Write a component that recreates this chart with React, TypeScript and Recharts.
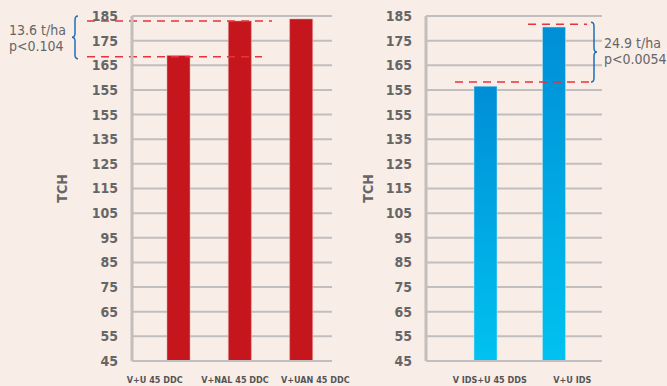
import { BarChart, Bar, XAxis, YAxis, CartesianGrid, ReferenceLine, ReferenceArea } from 'recharts'

const leftCategories = ['V+U 45 DDC', 'V+NAL 45 DDC', 'V+UAN 45 DDC']
const leftValues = [169, 183, 183.8]
const rightCategories = ['V IDS+U 45 DDS', 'V+U IDS']
const rightValues = [156.5, 180.5]

const tickValues = [45, 55, 65, 75, 85, 95, 105, 115, 125, 135, 145, 155, 165, 175, 185]
// labels as printed on the original (note the repeated 155)
const tickLabels = ['45', '55', '65', '75', '85', '95', '105', '115', '125', '135', '155', '155', '165', '175', '185']

const leftDiff = { low: 168.5, high: 183, text: '13.6 t/ha', p: 'p<0.104' }
const rightDiff = { low: 158.2, high: 181.7, text: '24.9 t/ha', p: 'p<0.0054' }

const BG = '#f8ede7'
const GRID = '#c2bebe'
const TEXT = '#666666'
const FONT = '"DejaVu Sans Condensed", "Liberation Sans Narrow", sans-serif'

const fmtTick = (v: number) => {
  const i = tickValues.indexOf(v)
  return i >= 0 ? tickLabels[i] : String(v)
}

const tchAt = (dx: number) => (props: any) => {
  const { viewBox } = props
  const cx = viewBox.x + dx
  const cy = viewBox.y + viewBox.height / 2
  return (
    <text x={cx} y={cy} transform={`rotate(-90 ${cx} ${cy})`} textAnchor="middle" dominantBaseline="central"
      fill={TEXT} fontSize={14} fontWeight={700} fontFamily={FONT}>TCH</text>
  )
}

// category labels in the original are spread a bit wider than the bars
const catTick = (n: number, spread: number, shift: number) => (props: any) => {
  const { x, y, payload, index } = props
  const dx = (index - (n - 1) / 2) * spread + shift
  return (
    <text x={x + dx} y={y} dy={6} textAnchor="middle" fill="#555" fontSize={9} fontWeight={700} fontFamily={FONT}>
      {payload.value}
    </text>
  )
}

const dash = (dl: number, dr: number) => (p: any) => (
  <line x1={p.x1 + dl} y1={p.y1} x2={p.x2 + dr} y2={p.y2} stroke="#e8333b" strokeWidth={1.5} strokeDasharray="8 6" />
)

const brace = (x: number, y1: number, y2: number, dir: number) => {
  const m = (y1 + y2) / 2
  const e = 3 * dir
  return `M${x + e},${y1} Q${x},${y1} ${x},${y1 + 4} L${x},${m - 4} Q${x},${m} ${x - e},${m} Q${x},${m} ${x},${m + 4} L${x},${y2 - 4} Q${x},${y2} ${x + e},${y2}`
}

const leftNote = (p: any) => {
  const bx = p.x - 73
  const y1 = p.y - 5
  const y2 = p.y + p.height + 2
  return (
    <g>
      <path d={brace(bx, y1, y2, 1)} fill="none" stroke="#1f6fb8" strokeWidth={1.5} />
      <text x={9} y={y1 + 19} fill={TEXT} fontSize={14} fontFamily={FONT}>{leftDiff.text}</text>
      <text x={9} y={y1 + 35} fill={TEXT} fontSize={14} fontFamily={FONT}>{leftDiff.p}</text>
    </g>
  )
}

const rightNote = (p: any) => {
  const bx = p.x + p.width + 6
  const y1 = p.y - 2
  const y2 = p.y + p.height
  return (
    <g>
      <path d={brace(bx, y1, y2, -1)} fill="none" stroke="#1f6fb8" strokeWidth={1.5} />
      <text x={bx + 10} y={y1 + 26} fill={TEXT} fontSize={14} fontFamily={FONT}>{rightDiff.text}</text>
      <text x={bx + 10} y={y1 + 42} fill={TEXT} fontSize={14} fontFamily={FONT}>{rightDiff.p}</text>
    </g>
  )
}

const tickStyle = { fill: TEXT, fontSize: 14, fontFamily: FONT, fontWeight: 700 }

export default function App() {
  const leftData = leftCategories.map((c, i) => ({ name: c, v: leftValues[i] }))
  const rightData = rightCategories.map((c, i) => ({ name: c, v: rightValues[i] }))

  return (
    <div style={{ position: 'absolute', left: 0, top: 0, width: 667, height: 386, background: BG, overflow: 'hidden' }}>
      <div style={{ position: 'absolute', left: 0, top: 0 }}>
        <BarChart width={360} height={386} data={leftData} margin={{ top: 16, right: 28, bottom: 0, left: 0 }}>
          <CartesianGrid vertical={false} stroke={GRID} strokeWidth={2} />
          <XAxis dataKey="name" tick={catTick(leftCategories.length, 19, -5)} tickLine={false}
            axisLine={{ stroke: GRID, strokeWidth: 2 }} padding={{ left: 16, right: 0 }} tickMargin={10} height={25} interval={0} />
          <YAxis domain={[45, 185]} ticks={tickValues} tickFormatter={fmtTick} tick={tickStyle} width={132}
            tickLine={false} tickSize={0} tickMargin={14} axisLine={{ stroke: GRID, strokeWidth: 3 }}
            allowDataOverflow label={tchAt(62)} />
          <Bar dataKey="v" fill="#c4161c" stroke="#e9a0a0" strokeWidth={0.5} barSize={23} isAnimationActive={false} />
          <ReferenceLine y={leftDiff.high} ifOverflow="visible" shape={dash(-45, -60)} />
          <ReferenceLine y={leftDiff.low} ifOverflow="visible" shape={dash(-45, -70)} />
          <ReferenceArea y1={leftDiff.low} y2={leftDiff.high} ifOverflow="visible" shape={leftNote} />
        </BarChart>
      </div>
      <div style={{ position: 'absolute', left: 340, top: 0 }}>
        <BarChart width={327} height={386} data={rightData} margin={{ top: 16, right: 65, bottom: 0, left: 0 }}>
          <defs>
            <linearGradient id="blueGrad" x1="0" y1="0" x2="0" y2="1">
              <stop offset="0%" stopColor="#008ed6" />
              <stop offset="100%" stopColor="#00c2f0" />
            </linearGradient>
          </defs>
          <CartesianGrid vertical={false} stroke={GRID} strokeWidth={2} />
          <XAxis dataKey="name" tick={catTick(rightCategories.length, 14, 11.5)} tickLine={false}
            axisLine={{ stroke: GRID, strokeWidth: 2 }} padding={{ left: 25, right: 14 }} tickMargin={10} height={25} interval={0} />
          <YAxis domain={[45, 185]} ticks={tickValues} tickFormatter={fmtTick} tick={tickStyle} width={86}
            tickLine={false} tickSize={0} tickMargin={14} axisLine={{ stroke: GRID, strokeWidth: 3 }}
            allowDataOverflow label={tchAt(28)} />
          <Bar dataKey="v" fill="url(#blueGrad)" stroke="#bfe6f6" strokeWidth={0.5} barSize={23} isAnimationActive={false} />
          <ReferenceLine y={rightDiff.high} ifOverflow="visible" shape={dash(102, -15)} />
          <ReferenceLine y={rightDiff.low} ifOverflow="visible" shape={dash(29, -10)} />
          <ReferenceArea y1={rightDiff.low} y2={rightDiff.high} ifOverflow="visible" shape={rightNote} />
        </BarChart>
      </div>
    </div>
  )
}
